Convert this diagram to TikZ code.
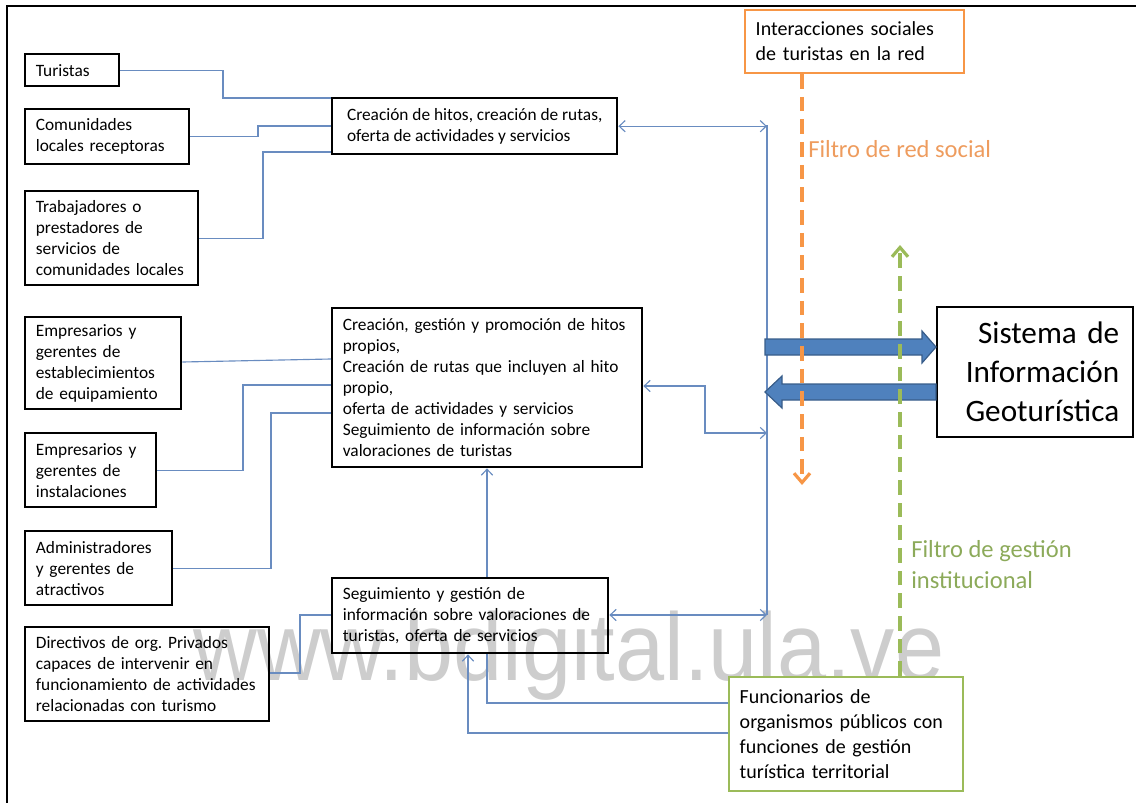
\documentclass[tikz,border=0pt]{standalone}
\usepackage{fontspec}
\setmainfont{Carlito}
\newfontfamily\wmfont{Liberation Sans}
\usetikzlibrary{arrows.meta}
\definecolor{lblue}{RGB}{105,140,192}
\definecolor{abody}{RGB}{79,129,189}
\definecolor{aedge}{RGB}{56,93,138}
\definecolor{orng}{RGB}{247,150,70}
\definecolor{orngtxt}{RGB}{238,156,94}
\definecolor{grn}{RGB}{155,187,89}
\definecolor{grntxt}{RGB}{140,170,90}
\definecolor{wmgray}{RGB}{205,205,205}
\tikzset{
  bx/.style={draw=black, line width=1.8pt, anchor=north west, align=left,
    inner xsep=8pt, inner ysep=2pt, font=\fontsize{13}{15.8}\selectfont},
  bigbx/.style={bx, line width=1.6pt, font=\fontsize{15}{18.75}\selectfont},
  conn/.style={draw=lblue, line width=0.85pt},
  filtro/.style={line width=2.4pt, dash pattern=on 11pt off 6pt,
    -{Straight Barb[length=7pt,width=12pt]}},
  thickarrow/.style={fill=abody, draw=aedge, line width=0.9pt, line join=miter},
  >={Straight Barb[length=4.5pt,width=8.5pt]}
}
\begin{document}
\begin{tikzpicture}[x=0.75pt, y=-0.75pt]
\useasboundingbox (0,0) rectangle (1136,803);
% watermark
\node[font=\wmfont\fontsize{72}{72}\selectfont, text=wmgray, anchor=base west,
  inner sep=0pt, xscale=0.92] (wm) at (193,680) {www.bdigital.ula.ve};
% frame
\draw[line width=1.6pt] (1136,6) -- (7,6) -- (7,803);

% left boxes
\node[bx, text width=54.5pt, minimum height=24pt] (tur) at (24,53) {Turistas};
\node[bx, text width=107pt, minimum height=41.25pt] (com) at (24,108) {Comunidades\\locales receptoras};
\node[bx, text width=113.75pt, minimum height=70.5pt] (tra) at (24,190) {Trabajadores o\\prestadores de\\servicios de\\comunidades locales};
\node[bx, text width=101pt, minimum height=69pt] (em1) at (24,316) {Empresarios y\\gerentes de\\establecimientos\\de equipamiento};
\node[bx, text width=82.25pt, minimum height=55.5pt] (em2) at (24,432) {Empresarios y\\gerentes de\\instalaciones};
\node[bx, text width=94.25pt, minimum height=55.5pt] (adm) at (24,530) {Administradores\\y gerentes de\\atractivos};
\node[bx, text width=167pt, minimum height=70.5pt] (dir) at (24,626) {Directivos de org.\ Privados\\capaces de intervenir en\\funcionamiento de actividades\\relacionadas con turismo};

% middle boxes
\node[bx, inner xsep=4pt, minimum width=213.75pt, minimum height=42pt] (cr1) at (331,97) {Creación de hitos, creación de rutas,\\oferta de actividades y servicios};
\node[bx, text width=216.5pt, minimum height=119.25pt] (cr2) at (331,307) {Creación, gestión y promoción de hitos\\propios,\\Creación de rutas que incluyen al hito\\propio,\\oferta de actividades y servicios\\Seguimiento de información sobre\\valoraciones de turistas};
\node[bx, text width=191pt, minimum height=56.25pt] (seg) at (331,577) {Seguimiento y gestión de\\información sobre valoraciones de\\turistas, oferta de servicios};

% right boxes
\node[bigbx, draw=orng, text width=148.25pt, minimum height=47.25pt] (int) at (744,9) {Interacciones sociales\\de turistas en la red};
\node[bx, align=right, inner xsep=10.5pt, text width=126pt, minimum height=97.5pt,
  font=\fontsize{23.4}{29.25}\selectfont] (sis) at (936,306) {Sistema de\\Información\\Geoturística};
\node[bigbx, draw=grn, fill=white, text width=159.5pt, minimum height=85.5pt] (fun) at (728,676) {Funcionarios de\\organismos públicos con\\funciones de gestión\\turística territorial};

% left connectors
\draw[conn] (tur.east) -| (223,98) -- (cr1.west |- 0,98);
\draw[conn] (com.east) -| (258,126) -- (cr1.west |- 0,126);
\draw[conn] (tra.east) -| (263,152) -- (cr1.west |- 0,152);
\draw[conn] (em1.east |- 0,362) -- (cr2.west |- 0,359);
\draw[conn] (em2.east) -| (243,385) -- (cr2.west |- 0,385);
\draw[conn] (adm.east) -| (271,413) -- (cr2.west |- 0,413);
\draw[conn] (dir.east |- 0,673) -| (300,615) -- (seg.west |- 0,615);

% vertical bus
\coordinate (vt) at (767,125);
\coordinate (vb) at (767,615);
\draw[conn] (vt) -- (vb);
\draw[conn, <->] (cr1.east) -- (cr1.east -| vt);
\draw[conn, <->] (cr2.east |- 0,386) -| (705,433) -- (vt |- 0,433);
\draw[conn, <->] (seg.east |- vb) -- (vb);

% vertical links
\draw[conn, ->] (seg.north -| 487,0) -- (cr2.south -| 487,0);
\draw[conn] (fun.west |- 0,703) -| (seg.south -| 487,0);
\draw[conn, ->] (fun.west |- 0,733) -| (seg.south -| 468,0);

% thick arrows
\draw[thickarrow] (765,339) -- (922,339) -- (922,331) -- (sis.west |- 0,347) -- (922,363) -- (922,355) -- (765,355) -- cycle;
\draw[thickarrow] (sis.west |- 0,384) -- (782,384) -- (782,376) -- (765,392) -- (782,408) -- (782,400) -- (sis.west |- 0,400) -- cycle;

% filters
\draw[filtro, draw=orng] (int.south -| 802,0) -- (802,485);
\draw[filtro, draw=grn] (fun.north -| 900,0) -- (900,245);
\node[font=\fontsize{18.4}{23.5}\selectfont, text=orngtxt, anchor=base west, inner sep=0pt] (fr) at (808,157) {Filtro de red social};
\node[font=\fontsize{18.4}{23.5}\selectfont, text=grntxt, anchor=north west, align=left, inner sep=0pt] (fg) at (911,540) {Filtro de gestión\\institucional};
\end{tikzpicture}
\end{document}
